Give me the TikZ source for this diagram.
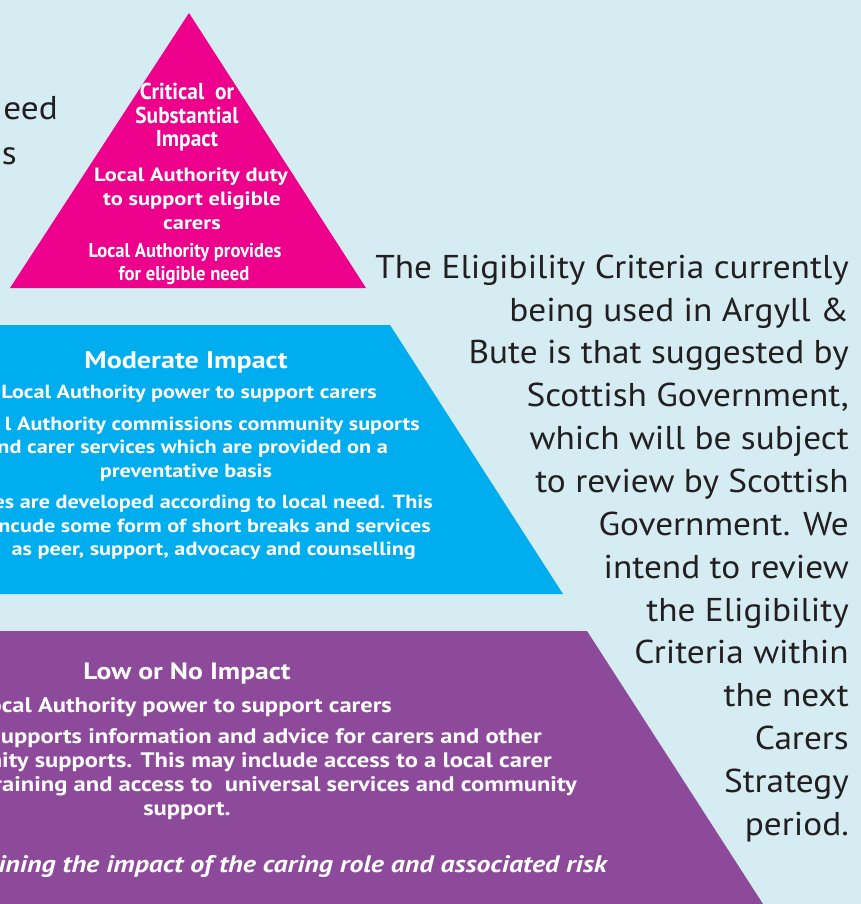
\documentclass[tikz,border=0pt]{standalone}
\usepackage{fontspec}
\setmainfont{PT Sans}
\newfontfamily\regfont[FakeStretch=1.07]{PT Sans}
\newfontfamily\boldfont[FakeStretch=1.17]{PT Sans}
\newfontfamily\condfont[FakeStretch=0.93]{PT Sans}
\definecolor{bgc}{HTML}{D5ECF2}
\definecolor{pinkc}{HTML}{EC008C}
\definecolor{bluec}{HTML}{00AEEF}
\definecolor{purc}{HTML}{8D4A9B}
\definecolor{inkc}{HTML}{231F20}
\tikzset{
  para/.style={text=inkc, inner sep=0pt, font=\regfont\fontsize{33}{42.85}\selectfont},
  pinkhead/.style={text=white, inner sep=0pt, anchor=base, font=\condfont\bfseries\fontsize{23}{24}\selectfont},
  pinkbody/.style={text=white, inner sep=0pt, anchor=base, font=\boldfont\bfseries\fontsize{19.2}{24}\selectfont},
  pinksmall/.style={text=white, inner sep=0pt, anchor=base, font=\condfont\bfseries\fontsize{20}{23}\selectfont},
  bluehead/.style={text=white, inner sep=0pt, anchor=base, font=\boldfont\bfseries\fontsize{24}{24}\selectfont},
  bluebody/.style={text=white, inner sep=0pt, font=\boldfont\bfseries\fontsize{19}{23}\selectfont},
  purhead/.style={text=white, inner sep=0pt, anchor=base, font=\boldfont\bfseries\fontsize{23.7}{24}\selectfont},
  purbody/.style={text=white, inner sep=0pt, font=\boldfont\bfseries\fontsize{21}{24}\selectfont},
  purital/.style={text=white, inner sep=0pt, anchor=base east, font=\boldfont\bfseries\itshape\fontsize{23.8}{24}\selectfont},
}
\begin{document}
\begin{tikzpicture}[x=1pt,y=-1pt]
\useasboundingbox (0,0) rectangle (861,904);
\clip (0,0) rectangle (861,904);
\fill[bgc] (0,0) rectangle (861,904);
% tiers
\fill[pinkc] (189,13) -- (366,288) -- (10,288) -- cycle;
\fill[bluec] (-20,325) -- (390,325) -- (563,594) -- (-20,594) -- cycle;
\fill[purc] (-20,631) -- (587,631) -- (763,904) -- (-20,904) -- cycle;
% left cut text
\node[para, anchor=base east] (l1) at (58,120) {eed};
\node[para, anchor=base east] (l2) at (17,165) {ns};
% pink
\node[pinkhead] (p1) at (187,100) {Critical\ \ or};
\node[pinkhead] (p2) at (187,124) {Substantial};
\node[pinkhead] (p3) at (187,147) {Impact};
\node[pinkbody] (p4) at (191,182) {Local Authority duty};
\node[pinkbody] (p5) at (192,205) {to support eligible};
\node[pinkbody] (p6) at (192,229) {carers};
\node[pinksmall] (p7) at (185,257) {Local Authority provides};
\node[pinksmall] (p8) at (184,280) {for eligible need};
% blue
\node[bluehead] (b1) at (186,368) {Moderate Impact};
\node[bluebody, anchor=base east] (b2) at (377,398) {Local Authority power to support carers};
\node[bluebody, anchor=base east] (b3) at (420,430) {l Authority commissions community suports};
\node[bluebody, anchor=base east] (b4) at (388,453) {nd carer services which are provided on a};
\node[bluebody, anchor=base] (b5) at (186,477) {preventative basis};
\node[bluebody, anchor=base east] (b6) at (433,508) {es are developed according to local need. This};
\node[bluebody, anchor=base east] (b7) at (431,532) {ncude some form of short breaks and services};
\node[bluebody, anchor=base east] (b8) at (416,555) {as peer, support, advocacy and counselling};
% purple
\node[purhead] (u1) at (187,679) {Low or No Impact};
\node[purbody, anchor=base east] (u2) at (392,712) {ocal Authority power to support carers};
\node[purbody, anchor=base east] (u3) at (542,743) {supports information and advice for carers and other};
\node[purbody, anchor=base east] (u4) at (552,767) {unity supports. This may include access to a local carer};
\node[purbody, anchor=base east] (u5) at (577,791) {raining and access to\ \ universal services and community};
\node[purbody, anchor=base] (u6) at (187,815) {support.};
\node[purital] (u7) at (607,872) {ining the impact of the caring role and associated risk};
% right paragraph
\node[para, anchor=north east, align=right] (txt) at (849,248) {\strut The Eligibility Criteria currently\\
being used in Argyll \&\\
Bute is that suggested by\\
Scottish Government,\\
which will be subject\\
to review by Scottish\\
Government. We\\
intend to review\\
the Eligibility\\
Criteria within\\
the next\\
Carers\\
Strategy\\
period.};
\end{tikzpicture}
\end{document}
